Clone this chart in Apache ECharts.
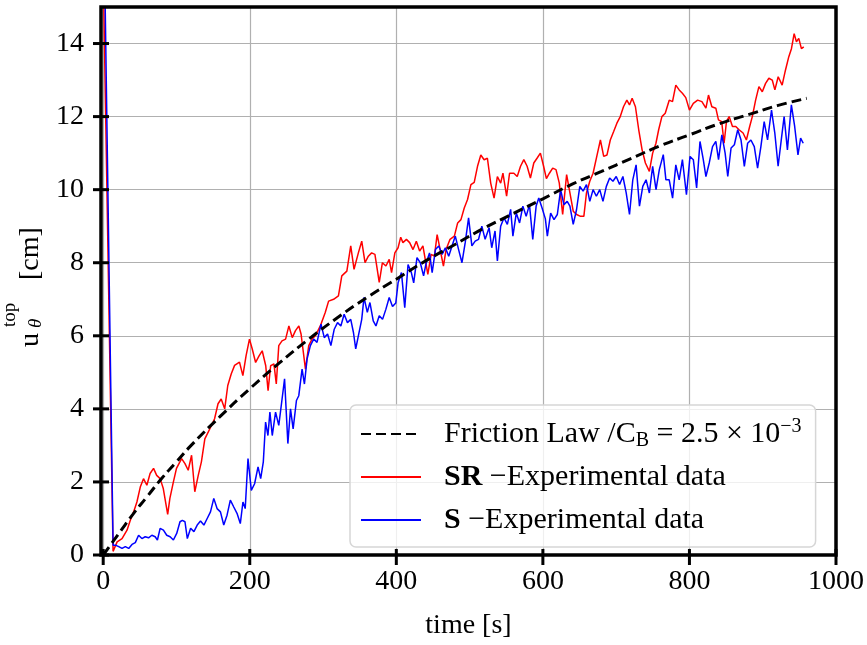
<!DOCTYPE html>
<html>
<head>
<meta charset="utf-8">
<script src="https://cdn.jsdelivr.net/npm/echarts@6/dist/echarts.min.js"></script>
<style>
  html, body { margin: 0; padding: 0; background: #fff; }
  #chart { width: 867px; height: 645px; }
</style>
</head>
<body>
<div id="chart"></div>
<script>
// axis ranges / ticks
const xRange = [-3, 1000]
const yRange = [0, 15]
const xTicks = [0, 200, 400, 600, 800, 1000]
const yTicks = [0, 2, 4, 6, 8, 10, 12, 14]

// friction law curve (C_B = 2.5e-3)
const lawTime = [0, 20, 40, 60, 80, 100, 120, 160, 200, 240, 280, 320, 360, 400, 440, 480, 520, 560, 600, 640, 680, 720, 760, 800, 840, 880, 920, 960]
const lawVal = [0, 0.55, 1.1, 1.6, 2.1, 2.55, 3.0, 3.8, 4.55, 5.25, 5.9, 6.5, 7.05, 7.55, 8.05, 8.5, 8.95, 9.35, 9.75, 10.15, 10.5, 10.85, 11.2, 11.5, 11.8, 12.05, 12.3, 12.5]

// SR experimental data
const srTime = [0, 13.5, 19, 25.7, 32.5, 37, 41.5, 46, 50.6, 55, 59.6, 64, 68.7, 73, 77.7, 82, 88, 91, 95.8, 100,
  107, 111.6, 116, 120.6, 125, 129.7, 134, 138.7, 145.4, 152, 156.7, 161, 165.8, 170, 174.8, 179.3, 186, 190.6, 195, 199.6,
  203.4, 208, 212.7, 217, 221.8, 225, 228.5, 233, 236.2, 239.6, 244, 248.9, 253.4, 258, 262.4, 267, 270, 276, 280.5, 285,
  289.5, 296.3, 303, 307.6, 314.4, 321, 325.6, 332.5, 337.8, 342.3, 348.2, 352.8, 357.3, 361.8, 366.3, 370.8, 376.7, 381, 385.8, 390.3,
  393.5, 398, 402.4, 406, 409, 413.8, 418.2, 422.8, 427.3, 431.8, 436.3, 443, 447.5, 452, 455.7, 459.8, 464.3, 467.9, 473.3, 479.2,
  483.7, 488.2, 492.7, 497.2, 501.8, 506.3, 510.8, 515.3, 519.8, 524.3, 528.8, 533.4, 537.9, 542.4, 545.5, 550.5, 554.5, 560.4, 565, 569.5,
  574, 578.5, 583, 587.6, 592, 596.6, 601, 604.8, 608.9, 613.4, 617.9, 622.4, 627, 632.4, 636.9, 641.4, 646, 651.4, 655.9, 659.5,
  664, 668.5, 674, 678.5, 683, 687.5, 692, 696.6, 701, 705.6, 710, 714.6, 718.2, 721.8, 726.3, 730.8, 735.4, 739.9, 745.3, 749.8,
  754.3, 758, 762.4, 767, 772.4, 776.9, 781.4, 786, 790.4, 795, 800, 805.3, 811.2, 817, 822.5, 826, 830.6, 836, 839.6, 844,
  847.3, 850.5, 854.2, 858.7, 863.2, 867.7, 873.2, 877.7, 882.2, 885.8, 890.3, 894.8, 899.4, 903.9, 908.4, 913, 916.6, 921.1, 926.5, 931,
  935.6, 939.2, 942.9, 946, 949.2, 952.8, 956]
const srVal = [16, 0.1, 0.36, 0.45, 0.68, 0.95, 1.18, 1.45, 1.86, 2.09, 1.91, 2.23, 2.37, 2.18, 2.09, 1.82, 1.11, 1.55, 2.0, 2.37,
  2.64, 2.5, 2.32, 2.73, 1.73, 2.18, 2.55, 3.18, 3.45, 3.73, 4.14, 4.27, 4.0, 4.64, 4.96, 5.19, 5.28, 4.91, 5.46, 5.91,
  5.64, 5.27, 5.45, 5.59, 5.18, 4.5, 5.18, 5.23, 4.68, 5.73, 5.86, 5.91, 6.27, 5.95, 6.14, 6.27, 6.05, 5.09, 5.73, 5.91,
  6.0, 6.27, 6.64, 6.95, 7.0, 7.09, 7.64, 7.77, 8.46, 7.82, 8.27, 8.59, 8.0, 8.18, 8.27, 8.23, 7.46, 8.0, 7.91, 8.09,
  7.73, 8.27, 8.41, 8.7, 8.55, 8.64, 8.55, 8.36, 8.59, 8.32, 8.46, 7.68, 8.23, 8.18, 8.77, 8.36, 7.91, 8.36, 8.64, 8.73,
  9.09, 9.18, 9.5, 9.73, 10.14, 10.2, 10.64, 10.95, 10.82, 10.86, 10.18, 9.77, 10.36, 10.18, 10.45, 9.82, 10.45, 10.45, 10.36, 10.64,
  10.82, 10.64, 10.32, 10.73, 10.86, 11.0, 10.64, 10.3, 10.45, 10.59, 10.55, 10.18, 9.32, 10.41, 9.91, 9.41, 9.32, 9.27, 9.27, 9.91,
  10.23, 10.45, 10.95, 11.36, 10.91, 10.95, 11.36, 11.59, 11.82, 12.0, 12.27, 12.45, 12.32, 12.5, 12.27, 11.64, 11.09, 10.73, 10.5, 11.0,
  11.27, 11.64, 12.0, 12.09, 12.45, 12.41, 12.86, 12.73, 12.64, 12.52, 12.18, 12.36, 12.45, 12.41, 12.23, 12.59, 12.27, 12.23, 11.91, 11.86,
  11.27, 11.86, 12.0, 11.73, 11.73, 11.64, 11.55, 11.36, 11.73, 12.0, 12.45, 12.82, 12.68, 12.91, 13.05, 13.0, 12.73, 13.09, 12.86, 13.27,
  13.64, 13.86, 14.27, 14.05, 14.14, 13.86, 13.91]

// S experimental data
const sTime = [2, 13.5, 16.7, 21.2, 25.7, 30.2, 34.8, 39.3, 43.8, 48.3, 52.8, 57.3, 61.9, 66.4, 70.9, 74, 77.7, 82.2, 86.7, 91.3,
  95.8, 100.3, 104.8, 108, 111.6, 114.8, 119.3, 123.8, 128.3, 132.8, 137.4, 141.9, 146.4, 150.9, 155.4, 160, 164.5, 169, 173.5, 178,
  182.6, 187.1, 190.7, 193.8, 197.6, 202.1, 206.6, 211.3, 214.9, 218.5, 221.6, 224.8, 227.5, 230.7, 235.2, 239.6, 244.1, 247.5, 252, 255.6,
  259.2, 263.7, 266.9, 271.4, 274.6, 278.2, 282.7, 287.2, 291.8, 297.2, 301.7, 306.2, 310.7, 315.3, 319.8, 324.3, 328.8, 333.3, 337.8, 341.5,
  344.6, 348.2, 352.8, 355.9, 360.4, 364, 368.5, 372.2, 376.7, 381.2, 385.8, 390.3, 394.8, 399.3, 402.4, 407, 411.5, 416, 420.5, 423.7,
  428.2, 432.7, 437.2, 440.8, 445.3, 448.9, 453.4, 457.9, 462.5, 467, 471.5, 476, 480.5, 485, 489.6, 494, 498.6, 503.1, 507.6, 512.2,
  516.7, 521.2, 526.6, 530.2, 534.7, 537.9, 542.4, 547, 551.5, 556, 559.1, 563.7, 568.2, 572.7, 577.2, 581.7, 586.2, 590.8, 594.4, 598.9,
  603.4, 606.1, 610.6, 615.2, 619.7, 624.2, 628.7, 633.2, 636.9, 641.4, 645.9, 650.4, 654.9, 659.5, 664, 668.5, 673, 677.6, 682, 686.6,
  691.1, 695.6, 700.1, 704.7, 709.2, 713.7, 718.2, 722.7, 727.2, 731.8, 736.3, 740.8, 745.3, 749.8, 754.4, 758.9, 764.3, 767.9, 772.4, 777,
  781.4, 786, 790.4, 795.9, 800.8, 805.3, 809.8, 814.4, 818.9, 822.5, 827, 831.5, 836, 839.7, 844.2, 848.7, 852.3, 856.8, 861.3, 865.9,
  870.4, 874.9, 879.4, 883.9, 888.5, 893, 897.5, 902, 906.6, 912, 916.5, 921, 925.6, 929.2, 933.7, 939.1, 943.6, 948.1, 951.7, 955.3]
const sVal = [16, 0.27, 0.27, 0.23, 0.18, 0.23, 0.18, 0.29, 0.34, 0.54, 0.45, 0.5, 0.47, 0.54, 0.5, 0.41, 0.73, 0.68, 0.54, 0.5,
  0.41, 0.59, 0.91, 0.95, 0.91, 0.45, 0.73, 0.64, 0.82, 0.93, 0.82, 1.0, 1.18, 1.55, 1.27, 1.18, 0.82, 1.09, 1.5, 1.32,
  1.14, 0.86, 1.45, 1.27, 2.64, 1.77, 1.95, 2.41, 2.09, 2.55, 3.64, 3.27, 3.91, 3.27, 3.91, 3.55, 4.27, 4.82, 3.05, 4.0,
  3.45, 4.23, 4.36, 5.09, 4.68, 5.36, 5.73, 5.91, 5.82, 6.32, 5.95, 6.05, 5.73, 6.18, 6.36, 6.27, 6.59, 6.36, 6.45, 6.09,
  5.64, 6.0, 6.45, 7.05, 6.64, 6.91, 6.41, 6.27, 6.55, 6.45, 6.73, 7.05, 6.8, 6.9, 7.45, 7.73, 6.77, 7.95, 7.73, 7.45,
  8.14, 8.0, 7.64, 8.0, 8.27, 7.73, 8.36, 8.46, 8.23, 8.41, 8.18, 8.46, 8.73, 8.36, 8.0, 8.55, 9.23, 8.46, 8.59, 8.64,
  9.0, 8.64, 8.96, 8.41, 8.87, 8.05, 9.0, 9.23, 9.05, 9.46, 8.73, 9.36, 9.09, 9.55, 9.27, 9.59, 8.64, 9.55, 9.77, 9.5,
  9.2, 8.73, 9.36, 9.18, 9.32, 10.0, 9.59, 9.68, 9.55, 9.05, 9.45, 10.09, 9.96, 10.14, 9.68, 10.0, 9.82, 10.0, 9.68, 10.09,
  10.32, 10.23, 10.36, 10.14, 10.36, 9.91, 9.32, 10.27, 10.68, 9.55, 10.09, 10.27, 9.91, 10.64, 10.0, 10.55, 10.96, 10.27, 10.27, 9.77,
  10.68, 10.27, 10.82, 9.86, 10.91, 10.82, 10.05, 11.32, 10.82, 10.36, 10.73, 11.18, 11.32, 10.82, 11.5, 11.0, 10.36, 11.14, 11.23, 11.64,
  11.36, 10.64, 11.27, 11.36, 11.18, 10.59, 11.18, 11.86, 11.36, 12.18, 11.55, 10.64, 11.41, 12.0, 11.09, 12.32, 11.73, 10.95, 11.41, 11.27]

const legendNames = {
  law: 'Friction Law /C{sub|B} = 2.5 × 10{sup|−3}',
  SR: '{b|SR} −Experimental data',
  S: '{b|S} −Experimental data'
}

const zip = (a, b) => a.map((v, i) => [v, b[i]])

const serif = 'Liberation Serif'
const black = '#000'
const plot = { left: 101, top: 7, width: 737, height: 550 }
const tickLen = 8   // matplotlib "inout" ticks: tickLen on each side of the frame

const myChart = echarts.init(document.getElementById('chart'))

myChart.setOption({
  animation: false,
  backgroundColor: '#fff',
  grid: { ...plot, show: true, borderColor: black, borderWidth: 3.5, backgroundColor: 'transparent', z: 10 },
  xAxis: {
    type: 'value', min: xRange[0], max: xRange[1], splitNumber: 5,
    axisLine: { show: false, onZero: false },
    axisTick: { show: false },
    axisLabel: { color: black, fontFamily: serif, fontSize: 28, margin: 13, showMinLabel: false, formatter: v => String(v) },
    splitLine: { show: true, lineStyle: { color: '#b0b0b0', width: 1.2 } },
    name: 'time [s]', nameLocation: 'middle', nameGap: 57,
    nameTextStyle: { color: black, fontFamily: serif, fontSize: 28 }
  },
  yAxis: {
    type: 'value', min: yRange[0], max: yRange[1], interval: 2,
    axisLine: { show: false, onZero: false },
    axisTick: { show: false },
    axisLabel: { color: black, fontFamily: serif, fontSize: 28, margin: 17, customValues: yTicks, formatter: v => String(v) },
    splitLine: { show: true, lineStyle: { color: '#b0b0b0', width: 1.2 } }
  },
  legend: {
    orient: 'vertical', left: 350, top: 405,
    padding: [12, 14, 10, 10], itemGap: 9, itemWidth: 60, itemHeight: 14,
    backgroundColor: 'rgba(255,255,255,0.8)', borderColor: '#d6d6d6', borderWidth: 1.5, borderRadius: 6,
    data: ['law', 'SR', 'S'],
    itemStyle: { opacity: 0 },
    formatter: name => legendNames[name],
    textStyle: {
      color: black, fontFamily: serif, fontSize: 30, lineHeight: 34, padding: [0, 0, 0, 18],
      rich: {
        b: { fontFamily: serif, fontSize: 30, fontWeight: 'bold', lineHeight: 34 },
        sub: { fontFamily: serif, fontSize: 20, lineHeight: 20, verticalAlign: 'bottom' },
        sup: { fontFamily: serif, fontSize: 20, lineHeight: 20, verticalAlign: 'top' }
      }
    }
  },
  series: [
    {
      name: 'SR', type: 'line', symbol: 'none', z: 2,
      data: zip(srTime, srVal),
      lineStyle: { color: '#ff0000', width: 1.5 }, itemStyle: { color: '#ff0000' }
    },
    {
      name: 'S', type: 'line', symbol: 'none', z: 3,
      data: zip(sTime, sVal),
      lineStyle: { color: '#0000ff', width: 1.5 }, itemStyle: { color: '#0000ff' }
    },
    {
      name: 'law', type: 'line', symbol: 'none', smooth: true, z: 4,
      data: zip(lawTime, lawVal),
      lineStyle: { color: black, width: 3, type: [10, 5] }, itemStyle: { color: black }
    }
  ]
})

// y axis title, drawn rotated so it reads bottom to top
const yTitle = {
  type: 'group', x: 39, y: 347, rotation: Math.PI / 2,
  children: [
    { type: 'text', x: 0, y: -8, style: { text: 'u', font: '28px "Liberation Serif"', fill: black, textAlign: 'left', textVerticalAlign: 'middle' } },
    { type: 'text', x: 20, y: -29, style: { text: 'top', font: '19px "Liberation Serif"', fill: black, textAlign: 'left', textVerticalAlign: 'middle' } },
    { type: 'text', x: 19, y: -3, style: { text: 'θ', font: 'italic 19px "Liberation Serif"', fill: black, textAlign: 'left', textVerticalAlign: 'middle' } },
    { type: 'text', x: 67, y: -8, style: { text: '[cm]', font: '28px "Liberation Serif"', fill: black, textAlign: 'left', textVerticalAlign: 'middle' } }
  ]
}

// "inout" ticks crossing the frame, placed with the chart's own axis scales
const bottom = plot.top + plot.height
const tickStyle = { stroke: black, lineWidth: 3 }
const xTickLines = xTicks.map(v => {
  const x = myChart.convertToPixel({ xAxisIndex: 0 }, v)
  return { type: 'line', z: 20, silent: true, shape: { x1: x, y1: bottom - tickLen, x2: x, y2: bottom + tickLen }, style: tickStyle }
})
const yTickLines = yTicks.map(v => {
  const y = myChart.convertToPixel({ yAxisIndex: 0 }, v)
  return { type: 'line', z: 20, silent: true, shape: { x1: plot.left - tickLen, y1: y, x2: plot.left + tickLen, y2: y }, style: tickStyle }
})

myChart.setOption({ graphic: [yTitle, ...xTickLines, ...yTickLines] })
</script>
</body>
</html>
